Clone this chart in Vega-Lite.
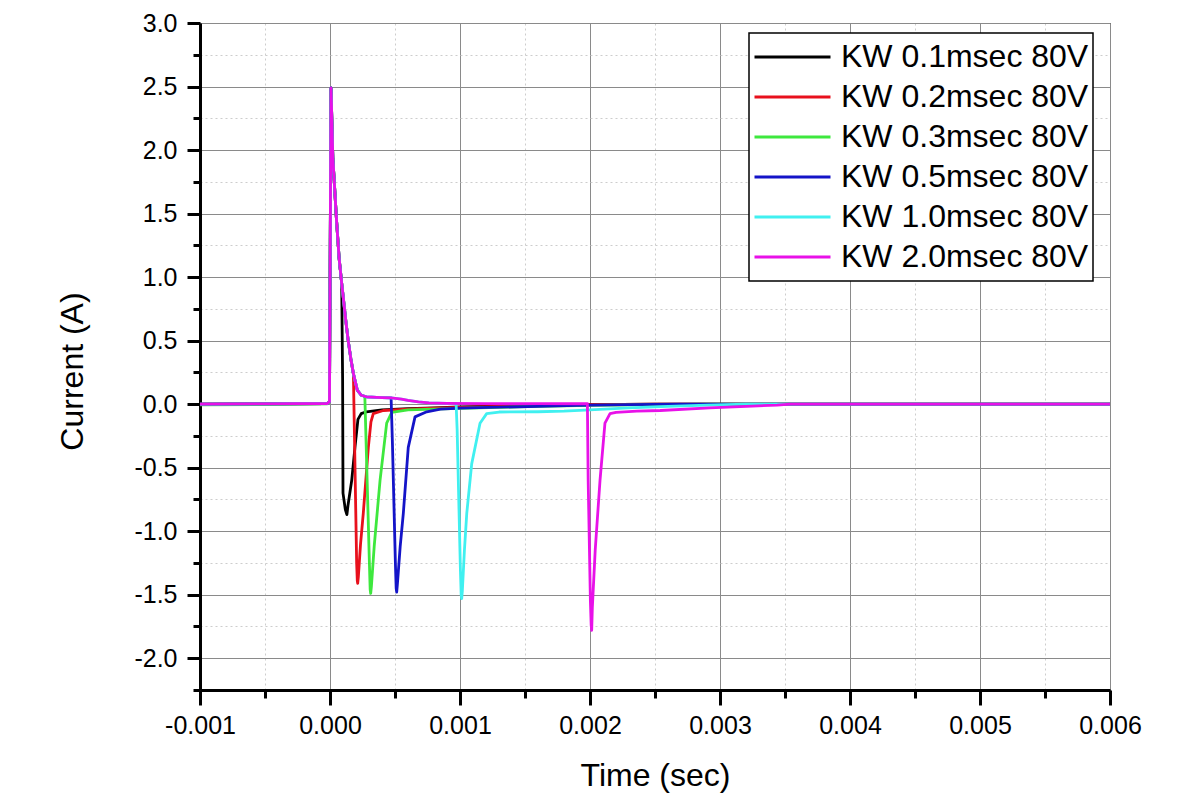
{
  "$schema": "https://vega.github.io/schema/vega-lite/v6.json",
  "autosize": {"type": "none"},
  "padding": {"left": 200, "top": 23, "right": 68, "bottom": 113},
  "width": 910,
  "height": 667,
  "background": "white",
  "config": {
    "font": "Liberation Sans",
    "view": {"stroke": "#000000", "strokeWidth": 1},
    "legend": {"strokeWidth": 1.5}
  },
  "data": {"values": [
    {"s": "KW 0.1msec 80V", "t": -0.001, "i": 0.0},
    {"s": "KW 0.1msec 80V", "t": -0.0005, "i": 0.002},
    {"s": "KW 0.1msec 80V", "t": -0.00002, "i": 0.005},
    {"s": "KW 0.1msec 80V", "t": -0.000004, "i": 0.02},
    {"s": "KW 0.1msec 80V", "t": 0.0000077, "i": 2.49},
    {"s": "KW 0.1msec 80V", "t": 0.000022, "i": 1.93},
    {"s": "KW 0.1msec 80V", "t": 0.00003, "i": 1.8},
    {"s": "KW 0.1msec 80V", "t": 0.00005, "i": 1.45},
    {"s": "KW 0.1msec 80V", "t": 0.00007, "i": 1.15},
    {"s": "KW 0.1msec 80V", "t": 0.00009, "i": 0.95},
    {"s": "KW 0.1msec 80V", "t": 0.000097, "i": 0.2},
    {"s": "KW 0.1msec 80V", "t": 0.0001, "i": -0.7},
    {"s": "KW 0.1msec 80V", "t": 0.000118, "i": -0.83},
    {"s": "KW 0.1msec 80V", "t": 0.00013, "i": -0.87},
    {"s": "KW 0.1msec 80V", "t": 0.000138, "i": -0.8},
    {"s": "KW 0.1msec 80V", "t": 0.000167, "i": -0.6},
    {"s": "KW 0.1msec 80V", "t": 0.000192, "i": -0.34},
    {"s": "KW 0.1msec 80V", "t": 0.000215, "i": -0.12},
    {"s": "KW 0.1msec 80V", "t": 0.00024, "i": -0.075},
    {"s": "KW 0.1msec 80V", "t": 0.00028, "i": -0.06},
    {"s": "KW 0.1msec 80V", "t": 0.0004, "i": -0.045},
    {"s": "KW 0.1msec 80V", "t": 0.0006, "i": -0.035},
    {"s": "KW 0.1msec 80V", "t": 0.0008, "i": -0.03},
    {"s": "KW 0.1msec 80V", "t": 0.001, "i": -0.022},
    {"s": "KW 0.1msec 80V", "t": 0.0013, "i": -0.015},
    {"s": "KW 0.1msec 80V", "t": 0.0016, "i": -0.01},
    {"s": "KW 0.1msec 80V", "t": 0.002, "i": -0.004},
    {"s": "KW 0.1msec 80V", "t": 0.0025, "i": 0.0},
    {"s": "KW 0.1msec 80V", "t": 0.006, "i": 0.0},

    {"s": "KW 0.2msec 80V", "t": -0.001, "i": 0.0},
    {"s": "KW 0.2msec 80V", "t": -0.0005, "i": 0.002},
    {"s": "KW 0.2msec 80V", "t": -0.00002, "i": 0.005},
    {"s": "KW 0.2msec 80V", "t": -0.000004, "i": 0.02},
    {"s": "KW 0.2msec 80V", "t": 0.0000077, "i": 2.49},
    {"s": "KW 0.2msec 80V", "t": 0.000022, "i": 1.93},
    {"s": "KW 0.2msec 80V", "t": 0.00003, "i": 1.8},
    {"s": "KW 0.2msec 80V", "t": 0.00005, "i": 1.45},
    {"s": "KW 0.2msec 80V", "t": 0.00007, "i": 1.15},
    {"s": "KW 0.2msec 80V", "t": 0.00009, "i": 0.95},
    {"s": "KW 0.2msec 80V", "t": 0.0001, "i": 0.86},
    {"s": "KW 0.2msec 80V", "t": 0.00012, "i": 0.67},
    {"s": "KW 0.2msec 80V", "t": 0.00014, "i": 0.5},
    {"s": "KW 0.2msec 80V", "t": 0.00016, "i": 0.36},
    {"s": "KW 0.2msec 80V", "t": 0.00018, "i": 0.24},
    {"s": "KW 0.2msec 80V", "t": 0.000184, "i": 0.0},
    {"s": "KW 0.2msec 80V", "t": 0.000205, "i": -1.25},
    {"s": "KW 0.2msec 80V", "t": 0.00021, "i": -1.39},
    {"s": "KW 0.2msec 80V", "t": 0.000213, "i": -1.41},
    {"s": "KW 0.2msec 80V", "t": 0.000218, "i": -1.36},
    {"s": "KW 0.2msec 80V", "t": 0.000235, "i": -1.1},
    {"s": "KW 0.2msec 80V", "t": 0.000256, "i": -0.86},
    {"s": "KW 0.2msec 80V", "t": 0.000295, "i": -0.34},
    {"s": "KW 0.2msec 80V", "t": 0.000315, "i": -0.14},
    {"s": "KW 0.2msec 80V", "t": 0.000333, "i": -0.075},
    {"s": "KW 0.2msec 80V", "t": 0.00041, "i": -0.05},
    {"s": "KW 0.2msec 80V", "t": 0.0006, "i": -0.04},
    {"s": "KW 0.2msec 80V", "t": 0.0008, "i": -0.032},
    {"s": "KW 0.2msec 80V", "t": 0.001, "i": -0.025},
    {"s": "KW 0.2msec 80V", "t": 0.0013, "i": -0.018},
    {"s": "KW 0.2msec 80V", "t": 0.0016, "i": -0.01},
    {"s": "KW 0.2msec 80V", "t": 0.002, "i": -0.004},
    {"s": "KW 0.2msec 80V", "t": 0.0025, "i": 0.0},
    {"s": "KW 0.2msec 80V", "t": 0.006, "i": 0.0},

    {"s": "KW 0.3msec 80V", "t": -0.001, "i": -0.005},
    {"s": "KW 0.3msec 80V", "t": -0.0005, "i": -0.003},
    {"s": "KW 0.3msec 80V", "t": -0.00002, "i": 0.003},
    {"s": "KW 0.3msec 80V", "t": -0.000004, "i": 0.02},
    {"s": "KW 0.3msec 80V", "t": 0.0000077, "i": 2.49},
    {"s": "KW 0.3msec 80V", "t": 0.000022, "i": 1.93},
    {"s": "KW 0.3msec 80V", "t": 0.00003, "i": 1.8},
    {"s": "KW 0.3msec 80V", "t": 0.00005, "i": 1.45},
    {"s": "KW 0.3msec 80V", "t": 0.00007, "i": 1.15},
    {"s": "KW 0.3msec 80V", "t": 0.00009, "i": 0.95},
    {"s": "KW 0.3msec 80V", "t": 0.0001, "i": 0.86},
    {"s": "KW 0.3msec 80V", "t": 0.00012, "i": 0.67},
    {"s": "KW 0.3msec 80V", "t": 0.00014, "i": 0.5},
    {"s": "KW 0.3msec 80V", "t": 0.00016, "i": 0.36},
    {"s": "KW 0.3msec 80V", "t": 0.00018, "i": 0.24},
    {"s": "KW 0.3msec 80V", "t": 0.00021, "i": 0.11},
    {"s": "KW 0.3msec 80V", "t": 0.00024, "i": 0.07},
    {"s": "KW 0.3msec 80V", "t": 0.000268, "i": 0.06},
    {"s": "KW 0.3msec 80V", "t": 0.000275, "i": -0.2},
    {"s": "KW 0.3msec 80V", "t": 0.000303, "i": -1.25},
    {"s": "KW 0.3msec 80V", "t": 0.000309, "i": -1.46},
    {"s": "KW 0.3msec 80V", "t": 0.000313, "i": -1.49},
    {"s": "KW 0.3msec 80V", "t": 0.000318, "i": -1.44},
    {"s": "KW 0.3msec 80V", "t": 0.00034, "i": -1.12},
    {"s": "KW 0.3msec 80V", "t": 0.000385, "i": -0.6},
    {"s": "KW 0.3msec 80V", "t": 0.000436, "i": -0.15},
    {"s": "KW 0.3msec 80V", "t": 0.000475, "i": -0.065},
    {"s": "KW 0.3msec 80V", "t": 0.0006, "i": -0.045},
    {"s": "KW 0.3msec 80V", "t": 0.0008, "i": -0.04},
    {"s": "KW 0.3msec 80V", "t": 0.001, "i": -0.033},
    {"s": "KW 0.3msec 80V", "t": 0.0013, "i": -0.025},
    {"s": "KW 0.3msec 80V", "t": 0.0016, "i": -0.018},
    {"s": "KW 0.3msec 80V", "t": 0.002, "i": -0.01},
    {"s": "KW 0.3msec 80V", "t": 0.0025, "i": -0.004},
    {"s": "KW 0.3msec 80V", "t": 0.0029, "i": 0.0},
    {"s": "KW 0.3msec 80V", "t": 0.006, "i": 0.0},

    {"s": "KW 0.5msec 80V", "t": -0.001, "i": 0.0},
    {"s": "KW 0.5msec 80V", "t": -0.0005, "i": 0.002},
    {"s": "KW 0.5msec 80V", "t": -0.00002, "i": 0.005},
    {"s": "KW 0.5msec 80V", "t": -0.000004, "i": 0.02},
    {"s": "KW 0.5msec 80V", "t": 0.0000077, "i": 2.49},
    {"s": "KW 0.5msec 80V", "t": 0.000022, "i": 1.93},
    {"s": "KW 0.5msec 80V", "t": 0.00003, "i": 1.8},
    {"s": "KW 0.5msec 80V", "t": 0.00005, "i": 1.45},
    {"s": "KW 0.5msec 80V", "t": 0.00007, "i": 1.15},
    {"s": "KW 0.5msec 80V", "t": 0.00009, "i": 0.95},
    {"s": "KW 0.5msec 80V", "t": 0.0001, "i": 0.86},
    {"s": "KW 0.5msec 80V", "t": 0.00012, "i": 0.67},
    {"s": "KW 0.5msec 80V", "t": 0.00014, "i": 0.5},
    {"s": "KW 0.5msec 80V", "t": 0.00016, "i": 0.36},
    {"s": "KW 0.5msec 80V", "t": 0.00018, "i": 0.24},
    {"s": "KW 0.5msec 80V", "t": 0.00021, "i": 0.11},
    {"s": "KW 0.5msec 80V", "t": 0.00024, "i": 0.07},
    {"s": "KW 0.5msec 80V", "t": 0.00028, "i": 0.058},
    {"s": "KW 0.5msec 80V", "t": 0.0004, "i": 0.052},
    {"s": "KW 0.5msec 80V", "t": 0.00047, "i": 0.05},
    {"s": "KW 0.5msec 80V", "t": 0.00048, "i": -0.3},
    {"s": "KW 0.5msec 80V", "t": 0.000503, "i": -1.25},
    {"s": "KW 0.5msec 80V", "t": 0.000509, "i": -1.45},
    {"s": "KW 0.5msec 80V", "t": 0.000513, "i": -1.48},
    {"s": "KW 0.5msec 80V", "t": 0.000518, "i": -1.42},
    {"s": "KW 0.5msec 80V", "t": 0.00054, "i": -1.12},
    {"s": "KW 0.5msec 80V", "t": 0.000564, "i": -0.86},
    {"s": "KW 0.5msec 80V", "t": 0.000602, "i": -0.34},
    {"s": "KW 0.5msec 80V", "t": 0.000654, "i": -0.1},
    {"s": "KW 0.5msec 80V", "t": 0.000744, "i": -0.06},
    {"s": "KW 0.5msec 80V", "t": 0.00085, "i": -0.04},
    {"s": "KW 0.5msec 80V", "t": 0.001, "i": -0.032},
    {"s": "KW 0.5msec 80V", "t": 0.0013, "i": -0.024},
    {"s": "KW 0.5msec 80V", "t": 0.0016, "i": -0.017},
    {"s": "KW 0.5msec 80V", "t": 0.0019, "i": -0.01},
    {"s": "KW 0.5msec 80V", "t": 0.0023, "i": -0.004},
    {"s": "KW 0.5msec 80V", "t": 0.0027, "i": 0.0},
    {"s": "KW 0.5msec 80V", "t": 0.006, "i": 0.0},

    {"s": "KW 1.0msec 80V", "t": -0.001, "i": 0.0},
    {"s": "KW 1.0msec 80V", "t": -0.0005, "i": 0.002},
    {"s": "KW 1.0msec 80V", "t": -0.00002, "i": 0.005},
    {"s": "KW 1.0msec 80V", "t": -0.000004, "i": 0.02},
    {"s": "KW 1.0msec 80V", "t": 0.0000077, "i": 2.49},
    {"s": "KW 1.0msec 80V", "t": 0.000022, "i": 1.93},
    {"s": "KW 1.0msec 80V", "t": 0.00003, "i": 1.8},
    {"s": "KW 1.0msec 80V", "t": 0.00005, "i": 1.45},
    {"s": "KW 1.0msec 80V", "t": 0.00007, "i": 1.15},
    {"s": "KW 1.0msec 80V", "t": 0.00009, "i": 0.95},
    {"s": "KW 1.0msec 80V", "t": 0.0001, "i": 0.86},
    {"s": "KW 1.0msec 80V", "t": 0.00012, "i": 0.67},
    {"s": "KW 1.0msec 80V", "t": 0.00014, "i": 0.5},
    {"s": "KW 1.0msec 80V", "t": 0.00016, "i": 0.36},
    {"s": "KW 1.0msec 80V", "t": 0.00018, "i": 0.24},
    {"s": "KW 1.0msec 80V", "t": 0.00021, "i": 0.11},
    {"s": "KW 1.0msec 80V", "t": 0.00024, "i": 0.07},
    {"s": "KW 1.0msec 80V", "t": 0.00028, "i": 0.058},
    {"s": "KW 1.0msec 80V", "t": 0.0004, "i": 0.052},
    {"s": "KW 1.0msec 80V", "t": 0.00047, "i": 0.05},
    {"s": "KW 1.0msec 80V", "t": 0.00055, "i": 0.04},
    {"s": "KW 1.0msec 80V", "t": 0.0006, "i": 0.03},
    {"s": "KW 1.0msec 80V", "t": 0.00068, "i": 0.018},
    {"s": "KW 1.0msec 80V", "t": 0.00076, "i": 0.01},
    {"s": "KW 1.0msec 80V", "t": 0.0009, "i": 0.006},
    {"s": "KW 1.0msec 80V", "t": 0.00097, "i": 0.005},
    {"s": "KW 1.0msec 80V", "t": 0.000978, "i": -0.2},
    {"s": "KW 1.0msec 80V", "t": 0.001003, "i": -1.3},
    {"s": "KW 1.0msec 80V", "t": 0.001009, "i": -1.5},
    {"s": "KW 1.0msec 80V", "t": 0.001013, "i": -1.53},
    {"s": "KW 1.0msec 80V", "t": 0.001018, "i": -1.47},
    {"s": "KW 1.0msec 80V", "t": 0.001034, "i": -1.15},
    {"s": "KW 1.0msec 80V", "t": 0.001052, "i": -0.86},
    {"s": "KW 1.0msec 80V", "t": 0.00109, "i": -0.47},
    {"s": "KW 1.0msec 80V", "t": 0.001154, "i": -0.15},
    {"s": "KW 1.0msec 80V", "t": 0.001205, "i": -0.075},
    {"s": "KW 1.0msec 80V", "t": 0.0013, "i": -0.062},
    {"s": "KW 1.0msec 80V", "t": 0.0016, "i": -0.06},
    {"s": "KW 1.0msec 80V", "t": 0.0018, "i": -0.055},
    {"s": "KW 1.0msec 80V", "t": 0.002, "i": -0.045},
    {"s": "KW 1.0msec 80V", "t": 0.0023, "i": -0.03},
    {"s": "KW 1.0msec 80V", "t": 0.0026, "i": -0.018},
    {"s": "KW 1.0msec 80V", "t": 0.0029, "i": -0.008},
    {"s": "KW 1.0msec 80V", "t": 0.0032, "i": 0.0},
    {"s": "KW 1.0msec 80V", "t": 0.006, "i": 0.0},

    {"s": "KW 2.0msec 80V", "t": -0.001, "i": 0.0},
    {"s": "KW 2.0msec 80V", "t": -0.0005, "i": 0.002},
    {"s": "KW 2.0msec 80V", "t": -0.00002, "i": 0.005},
    {"s": "KW 2.0msec 80V", "t": -0.000004, "i": 0.02},
    {"s": "KW 2.0msec 80V", "t": 0.0000077, "i": 2.49},
    {"s": "KW 2.0msec 80V", "t": 0.000022, "i": 1.93},
    {"s": "KW 2.0msec 80V", "t": 0.00003, "i": 1.8},
    {"s": "KW 2.0msec 80V", "t": 0.00005, "i": 1.45},
    {"s": "KW 2.0msec 80V", "t": 0.00007, "i": 1.15},
    {"s": "KW 2.0msec 80V", "t": 0.00009, "i": 0.95},
    {"s": "KW 2.0msec 80V", "t": 0.0001, "i": 0.86},
    {"s": "KW 2.0msec 80V", "t": 0.00012, "i": 0.67},
    {"s": "KW 2.0msec 80V", "t": 0.00014, "i": 0.5},
    {"s": "KW 2.0msec 80V", "t": 0.00016, "i": 0.36},
    {"s": "KW 2.0msec 80V", "t": 0.00018, "i": 0.24},
    {"s": "KW 2.0msec 80V", "t": 0.00021, "i": 0.11},
    {"s": "KW 2.0msec 80V", "t": 0.00024, "i": 0.07},
    {"s": "KW 2.0msec 80V", "t": 0.00028, "i": 0.058},
    {"s": "KW 2.0msec 80V", "t": 0.0004, "i": 0.052},
    {"s": "KW 2.0msec 80V", "t": 0.00047, "i": 0.05},
    {"s": "KW 2.0msec 80V", "t": 0.00055, "i": 0.04},
    {"s": "KW 2.0msec 80V", "t": 0.0006, "i": 0.03},
    {"s": "KW 2.0msec 80V", "t": 0.00068, "i": 0.018},
    {"s": "KW 2.0msec 80V", "t": 0.00076, "i": 0.01},
    {"s": "KW 2.0msec 80V", "t": 0.0009, "i": 0.006},
    {"s": "KW 2.0msec 80V", "t": 0.0012, "i": 0.004},
    {"s": "KW 2.0msec 80V", "t": 0.0016, "i": 0.004},
    {"s": "KW 2.0msec 80V", "t": 0.00198, "i": 0.003},
    {"s": "KW 2.0msec 80V", "t": 0.001986, "i": -0.6},
    {"s": "KW 2.0msec 80V", "t": 0.002003, "i": -1.55},
    {"s": "KW 2.0msec 80V", "t": 0.002009, "i": -1.74},
    {"s": "KW 2.0msec 80V", "t": 0.002013, "i": -1.78},
    {"s": "KW 2.0msec 80V", "t": 0.002018, "i": -1.6},
    {"s": "KW 2.0msec 80V", "t": 0.00204, "i": -1.15},
    {"s": "KW 2.0msec 80V", "t": 0.002077, "i": -0.6},
    {"s": "KW 2.0msec 80V", "t": 0.002115, "i": -0.15},
    {"s": "KW 2.0msec 80V", "t": 0.002154, "i": -0.075},
    {"s": "KW 2.0msec 80V", "t": 0.0022, "i": -0.065},
    {"s": "KW 2.0msec 80V", "t": 0.00236, "i": -0.055},
    {"s": "KW 2.0msec 80V", "t": 0.00254, "i": -0.05},
    {"s": "KW 2.0msec 80V", "t": 0.00292, "i": -0.03},
    {"s": "KW 2.0msec 80V", "t": 0.00325, "i": -0.015},
    {"s": "KW 2.0msec 80V", "t": 0.00344, "i": -0.008},
    {"s": "KW 2.0msec 80V", "t": 0.00354, "i": 0.0},
    {"s": "KW 2.0msec 80V", "t": 0.006, "i": 0.0}
  ]},
  "mark": {"type": "line", "strokeWidth": 2.8, "strokeJoin": "round", "strokeCap": "round", "clip": true},
  "encoding": {
    "x": {
      "field": "t", "type": "quantitative",
      "scale": {"domain": [-0.001, 0.006], "nice": false, "zero": false},
      "axis": {
        "title": "Time (sec)",
        "titleFontSize": 32, "titleFontWeight": "normal", "titleColor": "#000",
        "titleX": 455, "titleY": 95, "titleBaseline": "alphabetic",
        "values": [-0.001, -0.0005, 0, 0.0005, 0.001, 0.0015, 0.002, 0.0025, 0.003, 0.0035, 0.004, 0.0045, 0.005, 0.0055, 0.006],
        "labelExpr": "abs(datum.value*1000 - round(datum.value*1000)) < 1e-6 ? (datum.value < 0 ? '-' : '') + format(abs(datum.value), '.3f') : ''",
        "labelFontSize": 25, "labelColor": "#000", "labelPadding": 8, "labelFlush": false, "labelOverlap": false,
        "domainColor": "#000", "domainWidth": 3,
        "tickColor": "#000", "tickWidth": 3,
        "tickSize": {"condition": {"test": "abs(datum.value*1000 - round(datum.value*1000)) < 1e-6", "value": 15}, "value": 8},
        "grid": true,
        "gridColor": {"condition": {"test": "abs(datum.value*1000 - round(datum.value*1000)) < 1e-6", "value": "#8a8a8a"}, "value": "#cdcdcd"},
        "gridDash": {"condition": {"test": "abs(datum.value*1000 - round(datum.value*1000)) < 1e-6", "value": []}, "value": [2, 3]},
        "gridWidth": 1
      }
    },
    "y": {
      "field": "i", "type": "quantitative",
      "scale": {"domain": [-2.25, 3.0], "nice": false, "zero": false},
      "axis": {
        "title": "Current (A)",
        "titleFontSize": 32, "titleFontWeight": "normal", "titleColor": "#000",
        "titleX": -118, "titleY": 348, "titleBaseline": "alphabetic", "titleAngle": 270,
        "values": [-2.25, -2.0, -1.75, -1.5, -1.25, -1.0, -0.75, -0.5, -0.25, 0, 0.25, 0.5, 0.75, 1.0, 1.25, 1.5, 1.75, 2.0, 2.25, 2.5, 2.75, 3.0],
        "labelExpr": "abs(datum.value*2 - round(datum.value*2)) < 1e-6 ? (datum.value < 0 ? '-' : '') + format(abs(datum.value), '.1f') : ''",
        "labelFontSize": 25, "labelColor": "#000", "labelPadding": 10, "labelFlush": false, "labelOverlap": false,
        "domainColor": "#000", "domainWidth": 3,
        "tickColor": "#000", "tickWidth": 3,
        "tickSize": {"condition": {"test": "abs(datum.value*2 - round(datum.value*2)) < 1e-6", "value": 13}, "value": 7},
        "grid": true,
        "gridColor": {"condition": {"test": "abs(datum.value*2 - round(datum.value*2)) < 1e-6", "value": "#8a8a8a"}, "value": "#cdcdcd"},
        "gridDash": {"condition": {"test": "abs(datum.value*2 - round(datum.value*2)) < 1e-6", "value": []}, "value": [2, 3]},
        "gridWidth": 1
      }
    },
    "color": {
      "field": "s", "type": "nominal",
      "scale": {
        "domain": ["KW 0.1msec 80V", "KW 0.2msec 80V", "KW 0.3msec 80V", "KW 0.5msec 80V", "KW 1.0msec 80V", "KW 2.0msec 80V"],
        "range": ["#000000", "#e8101c", "#3ee83e", "#1414c8", "#40f0f0", "#e811e8"]
      },
      "legend": {
        "title": null,
        "orient": "none", "legendX": 549, "legendY": 10,
        "fillColor": "#ffffff", "strokeColor": "#000000",
        "padding": 4,
        "symbolType": "M-1,0H1", "symbolSize": 5776, "symbolStrokeWidth": 3,
        "labelFontSize": 32, "labelColor": "#000", "labelOffset": 9, "labelLimit": 400,
        "clipHeight": 40, "rowPadding": 0
      }
    }
  }
}
